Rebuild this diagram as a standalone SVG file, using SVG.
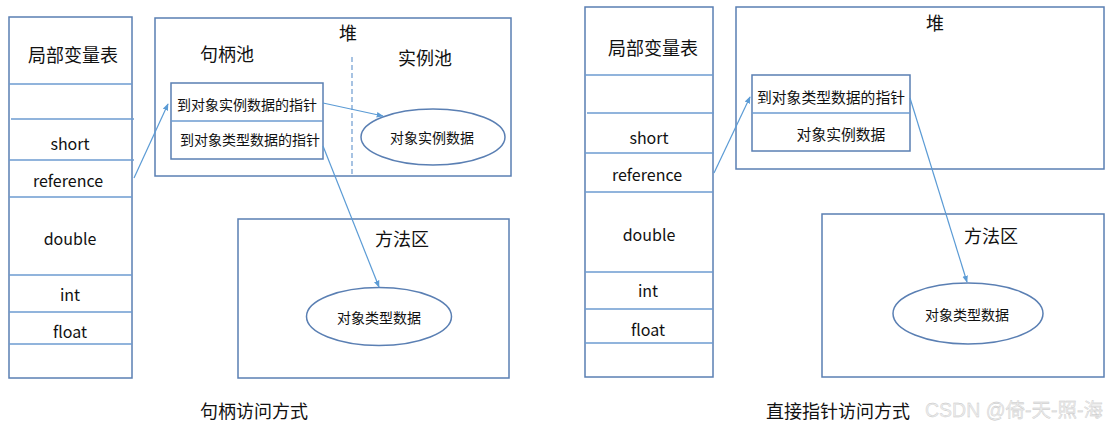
<svg xmlns="http://www.w3.org/2000/svg" width="1119" height="433" viewBox="0 0 1119 433">
<style>
.box{fill:none;stroke:#5a7fb3;stroke-width:1.5}
.div{stroke:#6d9bd0;stroke-width:1.3}
.ell{fill:#fff;stroke:#5a7fb3;stroke-width:1.5}
.t{font-family:"Noto Sans CJK SC","Liberation Sans",sans-serif;fill:#111;text-anchor:middle;dominant-baseline:central}
.l{font-size:16px}
.c{font-size:18px}
.s{font-size:14px}
.s2{font-size:14.8px}
.con{stroke:#5b9bd5;stroke-width:1.2;fill:none;marker-end:url(#ah)}
.wm{font-family:"Liberation Sans","Noto Sans CJK SC",sans-serif;font-size:19.5px;fill:#ececec;stroke:#c4c4c4;stroke-width:0.3;dominant-baseline:central}
</style>
<defs>
<marker id="ah" viewBox="0 0 10 10" refX="9" refY="5" markerWidth="7" markerHeight="7" orient="auto" markerUnits="userSpaceOnUse">
<path d="M0,1 L10,5 L0,9 z" fill="#5b9bd5"/>
</marker>
</defs>
<rect width="1119" height="433" fill="#fff"/>

<g id="left-locals">
<rect class="box" x="9" y="17" width="123" height="361"/>
<line class="div" x1="9" y1="84" x2="132" y2="84"/>
<line class="div" x1="11" y1="119" x2="134" y2="119"/>
<line class="div" x1="9" y1="160" x2="134" y2="160"/>
<line class="div" x1="9" y1="197" x2="132" y2="197"/>
<line class="div" x1="9" y1="275" x2="132" y2="275"/>
<line class="div" x1="9" y1="312" x2="132" y2="312"/>
<line class="div" x1="9" y1="344" x2="132" y2="344"/>
<text class="t c" x="73" y="54">局部变量表</text>
<text class="t l" x="70" y="143">short</text>
<text class="t l" x="68" y="180">reference</text>
<text class="t l" x="70" y="238">double</text>
<text class="t l" x="70" y="294">int</text>
<text class="t l" x="70" y="331">float</text>
</g>

<g id="left-heap">
<rect class="box" x="155" y="18" width="356" height="158"/>
<text class="t c" x="348" y="32">堆</text>
<text class="t c" x="227" y="53">句柄池</text>
<text class="t c" x="425" y="57">实例池</text>
<line x1="352" y1="57" x2="352" y2="176" stroke="#6d9bd0" stroke-width="1.2" stroke-dasharray="5,3"/>
</g>

<g id="left-handle">
<rect class="box" x="171" y="83" width="152" height="76"/>
<line class="div" x1="171" y1="121" x2="323" y2="121"/>
<text class="t s" x="247" y="104">到对象实例数据的指针</text>
<text class="t s" x="250" y="139">到对象类型数据的指针</text>
</g>

<g id="left-instance">
<ellipse class="ell" cx="433" cy="137" rx="72" ry="28"/>
<text class="t s" x="432" y="137">对象实例数据</text>
</g>

<g id="left-method">
<rect class="box" x="238" y="219" width="271" height="159"/>
<text class="t c" x="402" y="238">方法区</text>
</g>

<g id="left-type">
<ellipse class="ell" cx="379" cy="316.5" rx="72.5" ry="29"/>
<text class="t s" x="379" y="317">对象类型数据</text>
</g>

<g id="right-locals">
<rect class="box" x="585" y="7" width="128" height="370"/>
<line class="div" x1="585" y1="75" x2="713" y2="75"/>
<line class="div" x1="587" y1="113" x2="714" y2="113"/>
<line class="div" x1="585" y1="153" x2="714" y2="153"/>
<line class="div" x1="585" y1="192" x2="713" y2="192"/>
<line class="div" x1="585" y1="272" x2="713" y2="272"/>
<line class="div" x1="585" y1="309" x2="713" y2="309"/>
<line class="div" x1="585" y1="343" x2="713" y2="343"/>
<text class="t c" x="653" y="47">局部变量表</text>
<text class="t l" x="649" y="137">short</text>
<text class="t l" x="647" y="174">reference</text>
<text class="t l" x="649" y="234">double</text>
<text class="t l" x="648" y="290">int</text>
<text class="t l" x="648" y="329">float</text>
</g>

<g id="right-heap">
<rect class="box" x="736" y="7" width="368" height="162"/>
<text class="t c" x="935" y="22">堆</text>
</g>

<g id="right-object">
<rect class="box" x="752" y="75" width="158" height="76"/>
<line class="div" x1="752" y1="113" x2="910" y2="113"/>
<text class="t s2" x="831" y="96">到对象类型数据的指针</text>
<text class="t s2" x="841" y="133">对象实例数据</text>
</g>

<g id="right-method">
<rect class="box" x="822" y="214" width="282" height="163"/>
<text class="t c" x="991" y="235">方法区</text>
</g>

<g id="right-type">
<ellipse class="ell" cx="968" cy="313.5" rx="75" ry="30.5"/>
<text class="t s" x="967" y="314">对象类型数据</text>
</g>

<g id="connectors">
<line class="con" x1="134" y1="178" x2="168" y2="104"/>
<line class="con" x1="323" y1="103" x2="383" y2="116"/>
<line class="con" x1="323" y1="146" x2="379" y2="287"/>
<line class="con" x1="714" y1="173" x2="750" y2="97"/>
<line class="con" x1="910" y1="98" x2="967" y2="282"/>
</g>

<g id="captions">
<text class="t c" x="254" y="410" font-size="17">句柄访问方式</text>
<text class="t c" x="838" y="410" font-size="17">直接指针访问方式</text>
<text class="wm" x="925" y="410">CSDN @倚-天-照-海</text>
</g>
</svg>
